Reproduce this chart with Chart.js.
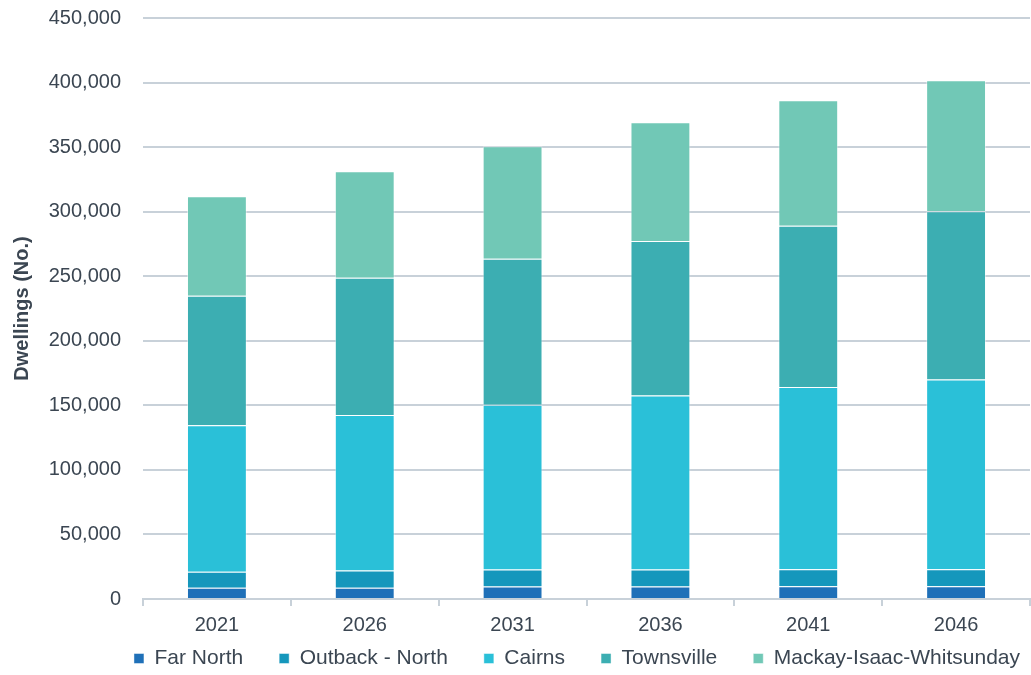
<!DOCTYPE html>
<html>
<head>
<meta charset="utf-8">
<script src="https://cdn.jsdelivr.net/npm/chart.js@4"></script>
<style>
    body { margin: 0; background: #ffffff; }
    #wrap { width: 1031px; height: 675px; }
</style>
</head>
<body>
<div id="wrap"><canvas id="myChart"></canvas></div>
<script>
var years = ["2021", "2026", "2031", "2036", "2041", "2046"];
var farNorth = [8800, 8800, 9600, 9600, 9900, 9900];
var outbackNorth = [12400, 13200, 13200, 13200, 13100, 13100];
var cairns = [113300, 120500, 127700, 134900, 141200, 147100];
var townsville = [100300, 106300, 113000, 119500, 124800, 130300];
var mackay = [77200, 82500, 87200, 92100, 97300, 101400];
var yTicks = [0, 50000, 100000, 150000, 200000, 250000, 300000, 350000, 400000, 450000];

var textColor = "#3b4652";
var lineColor = "#c8d1d9";
var fontFamily = "'Liberation Sans', Arial, sans-serif";

function makeSet(label, data, color) {
    return {
        label: label,
        data: data,
        backgroundColor: color,
        borderColor: "rgba(255,255,255,0.45)",
        borderWidth: 1,
        categoryPercentage: 1.0,
        barPercentage: 0.405
    };
}

// nudge the legend row: a bit right and up, closer to the axis labels
var legendNudge = {
    id: 'legendNudge',
    afterLayout: function (chart) {
        var lg = chart.legend;
        if (!lg) return;
        lg.right += 26;
        lg.top -= 25;
    }
};

function main() {
    var ctx = document.getElementById('myChart').getContext('2d');
    var myChart = new Chart(ctx, {
        type: 'bar',
        data: {
            labels: years,
            datasets: [
                makeSet("Far North", farNorth, "#1f70b8"),
                makeSet("Outback - North", outbackNorth, "#1597bc"),
                makeSet("Cairns", cairns, "#2ac0d8"),
                makeSet("Townsville", townsville, "#3caeb2"),
                makeSet("Mackay-Isaac-Whitsunday", mackay, "#71c8b6")
            ]
        },
        plugins: [legendNudge],
        options: {
            responsive: true,
            maintainAspectRatio: false,
            animation: false,
            layout: {
                padding: { top: 0, right: 1, bottom: 0, left: 10 }
            },
            plugins: {
                tooltip: { enabled: false },
                legend: {
                    position: 'bottom',
                    align: 'end',
                    maxHeight: 38,
                    labels: {
                        color: textColor,
                        font: { family: fontFamily, size: 21 },
                        boxWidth: 10,
                        boxHeight: 10,
                        padding: 36
                    }
                }
            },
            scales: {
                x: {
                    stacked: true,
                    afterFit: function (axis) {
                        axis.height = 38;
                    },
                    border: { display: true, color: lineColor, width: 2 },
                    grid: {
                        offset: true,
                        drawOnChartArea: false,
                        drawTicks: true,
                        tickLength: 7,
                        color: lineColor,
                        lineWidth: 2
                    },
                    ticks: {
                        color: textColor,
                        font: { family: fontFamily, size: 20 },
                        padding: 7
                    }
                },
                y: {
                    stacked: true,
                    min: 0,
                    max: 450000,
                    afterBuildTicks: function (axis) {
                        axis.ticks = yTicks.map(function (v) { return { value: v }; });
                    },
                    afterFit: function (axis) {
                        axis.paddingTop = 18;
                        axis.width = 133;
                    },
                    border: { display: false },
                    grid: {
                        drawTicks: false,
                        color: lineColor,
                        lineWidth: 2
                    },
                    ticks: {
                        color: textColor,
                        font: { family: fontFamily, size: 20 },
                        padding: 22,
                        callback: function (value) {
                            return value.toLocaleString('en-US');
                        }
                    },
                    title: {
                        display: true,
                        text: "Dwellings (No.)",
                        color: textColor,
                        font: { family: fontFamily, size: 20, weight: 'bold', lineHeight: 1 },
                        padding: { top: 2, bottom: 16 }
                    }
                }
            }
        }
    });
}

main();
</script>
</body>
</html>
